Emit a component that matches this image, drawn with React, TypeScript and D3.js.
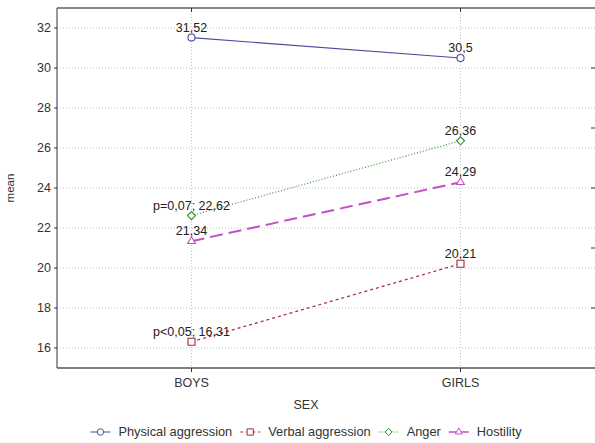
import * as d3 from "d3";

const categories = ["BOYS", "GIRLS"];
const physical = [31.52, 30.5];
const verbal = [16.31, 20.21];
const anger = [22.62, 26.36];
const hostility = [21.34, 24.29];
// text put in front of a value label (only at BOYS for two series)
const verbalNotes = ["p<0,05; ", ""];
const angerNotes = ["p=0,07; ", ""];
const yTicks = [16, 18, 20, 22, 24, 26, 28, 30, 32];
const rightTicks = [18, 21, 24, 27, 30];

const W = 595;
const H = 443;
const m = { left: 57, top: 8, right: 595, bottom: 368 };
const FONT = "'Liberation Sans', Arial, sans-serif";

// small square-ish diamond, like the original marker
const symbolRhomb = {
  draw(ctx: any, size: number) {
    const r = Math.sqrt(size / 2);
    ctx.moveTo(0, -r);
    ctx.lineTo(r, 0);
    ctx.lineTo(0, r);
    ctx.lineTo(-r, 0);
    ctx.closePath();
  },
};

const series = [
  { name: "Physical aggression", values: physical, notes: ["", ""], color: "#4b4b9e", dash: "none", width: 1.2, symbol: d3.symbolCircle, size: 40 },
  { name: "Verbal aggression", values: verbal, notes: verbalNotes, color: "#9e2a3a", dash: "3,3", width: 1.2, symbol: d3.symbolSquare, size: 49 },
  { name: "Anger", values: anger, notes: angerNotes, color: "#2e8a2e", dash: "1,2", width: 1.1, symbol: symbolRhomb, size: 32 },
  { name: "Hostility", values: hostility, notes: ["", ""], color: "#c64ec6", dash: "13,6", width: 2, symbol: d3.symbolTriangle, size: 26 },
];

const fmt = (v: number) => String(v).replace(".", ",");

function textWidth(s: string, size: number) {
  const c = document.createElement("canvas").getContext("2d")!;
  c.font = `${size}px 'Liberation Sans', Arial, sans-serif`;
  return c.measureText(s).width;
}

export default function App() {
  const x = d3.scalePoint().domain(categories).range([m.left, m.right]).padding(0.5);
  const y = d3.scaleLinear().domain([15, 33]).range([m.bottom, m.top]);
  const line = d3
    .line<number>()
    .x((_, i) => x(categories[i])!)
    .y((d) => y(d));

  // legend layout
  const symW = 20;
  const gap = 8;
  const legendFont = 12.8;
  const widths = series.map((s) => symW + gap + textWidth(s.name, legendFont));
  const total = d3.sum(widths) + gap * (series.length - 1);
  let lx = 306 - total / 2;
  const legendX = widths.map((w) => {
    const v = lx;
    lx += w + gap;
    return v;
  });

  return (
    <svg width={W} height={H} style={{ position: "absolute", left: 0, top: 0, background: "#fff" }} fontFamily={FONT}>
      {/* grid */}
      {yTicks.map((t) => (
        <line key={t} x1={m.left} x2={m.right} y1={y(t)} y2={y(t)} stroke="#c4c4c4" strokeDasharray="1,2" />
      ))}
      {categories.map((c) => (
        <line key={c} x1={x(c)} x2={x(c)} y1={m.top} y2={m.bottom} stroke="#c4c4c4" strokeDasharray="1,2" />
      ))}

      {/* frame */}
      <line x1={m.left} x2={m.right} y1={m.top} y2={m.top} stroke="#111" strokeWidth={1.2} />
      <line x1={m.left} x2={m.left} y1={m.top} y2={m.bottom} stroke="#555" strokeWidth={1.2} />
      <line x1={m.left} x2={m.right} y1={m.bottom} y2={m.bottom} stroke="#555" strokeWidth={1.5} />

      {/* y ticks */}
      {yTicks.map((t) => (
        <g key={t}>
          <line x1={m.left - 3} x2={m.left} y1={y(t)} y2={y(t)} stroke="#333" />
          <text x={m.left - 6} y={y(t)} dy="0.35em" textAnchor="end" fontSize={12.5} fill="#333">
            {t}
          </text>
        </g>
      ))}
      {rightTicks.map((t) => (
        <line key={t} x1={m.right - 4} x2={m.right} y1={y(t)} y2={y(t)} stroke="#333" />
      ))}

      {/* x ticks */}
      {categories.map((c) => (
        <g key={c}>
          <line x1={x(c)} x2={x(c)} y1={m.bottom} y2={m.bottom + 4} stroke="#333" />
          <line x1={x(c)} x2={x(c)} y1={m.top} y2={m.top + 4} stroke="#333" />
          <text x={x(c)} y={m.bottom + 19} textAnchor="middle" fontSize={12.5} fill="#333">
            {c}
          </text>
        </g>
      ))}

      <text x={(m.left + m.right) / 2 - 20} y={409} textAnchor="middle" fontSize={12.5} fill="#333">
        SEX
      </text>
      <text transform={`translate(14,${(m.top + m.bottom) / 2}) rotate(-90)`} textAnchor="middle" fontSize={11.5} fill="#333">
        mean
      </text>

      {/* series */}
      {series.map((s) => (
        <g key={s.name}>
          <path d={line(s.values)!} fill="none" stroke={s.color} strokeWidth={s.width} strokeDasharray={s.dash} />
          {s.values.map((v, i) => (
            <g key={i}>
              <path
                d={d3.symbol(s.symbol as any, s.size)()!}
                transform={`translate(${x(categories[i])},${y(v)})`}
                fill="#fff"
                stroke={s.color}
                strokeWidth={1.1}
              />
              <text x={x(categories[i])} y={y(v) - 6} textAnchor="middle" fontSize={12.5} fill="#222">
                {s.notes[i] + fmt(v)}
              </text>
            </g>
          ))}
        </g>
      ))}

      {/* legend */}
      {series.map((s, i) => (
        <g key={s.name} transform={`translate(${legendX[i]},432)`}>
          <line x1={0} x2={symW} y1={0} y2={0} stroke={s.color} strokeWidth={s.width > 1.5 ? 1.5 : 1} strokeDasharray={s.dash === "13,6" ? "none" : s.dash} />
          <path d={d3.symbol(s.symbol as any, s.size * 0.8)()!} transform={`translate(${symW / 2},0)`} fill="#fff" stroke={s.color} />
          <text x={symW + gap} y={0} dy="0.35em" fontSize={legendFont} fill="#333">
            {s.name}
          </text>
        </g>
      ))}
    </svg>
  );
}
